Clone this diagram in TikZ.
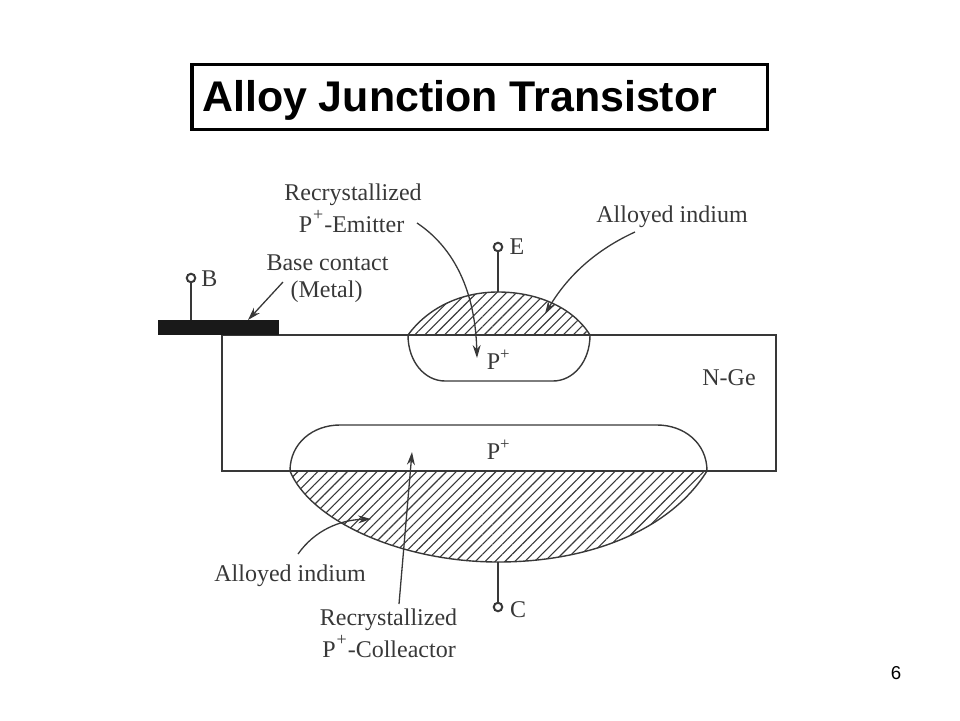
\documentclass[tikz,border=0pt]{standalone}
\usepackage{fontspec}
\setmainfont{Liberation Serif}
\newfontfamily\arialfont{Liberation Sans}
\usetikzlibrary{arrows.meta,patterns.meta}
\definecolor{inkgray}{HTML}{383838}
\newcommand{\Phigh}{P\kern1pt\raisebox{12pt}{\fontsize{18}{18}\selectfont +}\kern1pt}
\tikzset{
  lbl/.style={anchor=base,inner sep=0pt,text=inkgray,font=\fontsize{24}{24}\selectfont},
  term/.style={circle,draw=inkgray,fill=white,line width=2pt,inner sep=0pt,minimum size=8.5pt},
  wire/.style={draw=inkgray,line width=1.6pt},
  thinline/.style={draw=inkgray,line width=1.4pt},
  pointer/.style={draw=inkgray,line width=1.3pt,-{Stealth[length=13pt,width=8pt]}},
  hatched/.style={pattern={Lines[angle=45,distance=7pt,line width=1.1pt]},pattern color=inkgray}
}
\begin{document}
\begin{tikzpicture}[x=1pt,y=-1pt]
   \useasboundingbox (0,0) rectangle (960,720);
   % title and page number
   \node[draw=black,line width=3.5pt,minimum width=575.5pt,minimum height=65pt,inner sep=0pt] (TitleBox) at (479.5,97) {};
   \node[anchor=base west,inner sep=0pt,font=\arialfont\bfseries\fontsize{42.9}{42.9}\selectfont] (Title) at (202,111) {Alloy Junction Transistor};
   \node[anchor=base,inner sep=0pt,font=\arialfont\fontsize{18.67}{18.67}\selectfont] (PageNo) at (896,679) {6};
   % alloyed regions
   \fill[hatched] (408,335) .. controls (430,305) and (465,292) .. (498,292) .. controls (535,292) and (572,306) .. (590,335) -- cycle;
   \draw[thinline] (408,335) .. controls (430,305) and (465,292) .. (498,292) .. controls (535,292) and (572,306) .. (590,335);
   \fill[hatched] (290,471) .. controls (310,520) and (400,562) .. (498,562) .. controls (590,562) and (670,530) .. (707,471) -- cycle;
   \draw[thinline] (290,471) .. controls (310,520) and (400,562) .. (498,562) .. controls (590,562) and (670,530) .. (707,471);
   % recrystallized regions
   \draw[thinline] (408,335) .. controls (408,362) and (425,381) .. (445,381) -- (553,381) .. controls (573,381) and (590,362) .. (590,335);
   \draw[thinline] (290,471) .. controls (290,443) and (313,425) .. (340,425) -- (657,425) .. controls (684,425) and (707,443) .. (707,471);
   % wafer and base contact
   \draw[wire] (222,335) rectangle (776,471);
   \fill[black!90] (158,320) rectangle (279,335);
   % terminals
   \coordinate (Bfoot) at (191,320);
   \coordinate (Efoot) at (498,292);
   \coordinate (Cfoot) at (498,562);
   \node[term] (B) at (191,278) {};
   \node[term] (E) at (498,247) {};
   \node[term] (C) at (498,607) {};
   \draw[wire] (B) -- (Bfoot);
   \draw[wire] (E) -- (Efoot);
   \draw[wire] (C) -- (Cfoot);
   \node[lbl] (Blbl) at (209.5,286) {B};
   \node[lbl] (Elbl) at (517,254) {E};
   \node[lbl] (Clbl) at (518,617) {C};
   % labels
   \node[lbl] (RecE) at (353,200) {Recrystallized};
   \node[lbl] (PE) at (351.5,232) {\Phigh-Emitter};
   \node[lbl] (BaseA) at (327.5,270) {Base contact};
   \node[lbl] (BaseB) at (326.5,297) {(Metal)};
   \node[lbl] (AllTop) at (672,222) {Alloyed indium};
   \node[lbl] (AllLow) at (290,581) {Alloyed indium};
   \node[lbl] (RecC) at (388.5,625) {Recrystallized};
   \node[lbl] (PC) at (389,657) {\Phigh-Colleactor};
   \node[lbl] (Pemit) at (498.5,369) {P\textsuperscript{+}};
   \node[lbl] (Pcoll) at (498.5,459) {P\textsuperscript{+}};
   \node[lbl] (NGe) at (729,385) {N-Ge};
   % pointers
   \coordinate (PEtail) at (417,223);
   \coordinate (PEtip) at (477,358);
   \coordinate (ATtail) at (635,232);
   \coordinate (ATtip) at (545,314);
   \coordinate (BCtail) at (283,282);
   \coordinate (BCtip) at (248,320);
   \coordinate (ALtail) at (298,554);
   \coordinate (ALtip) at (371,519);
   \coordinate (RCtail) at (399,604);
   \coordinate (RCtip) at (412,452);
   \draw[pointer] (PEtail) .. controls (450,245) and (475,285) .. (PEtip);
   \draw[pointer] (ATtail) .. controls (600,248) and (570,272) .. (ATtip);
   \draw[pointer] (BCtail) -- (BCtip);
   \draw[pointer] (ALtail) .. controls (315,530) and (340,520) .. (ALtip);
   \draw[pointer] (RCtail) -- (RCtip);
\end{tikzpicture}
\end{document}
